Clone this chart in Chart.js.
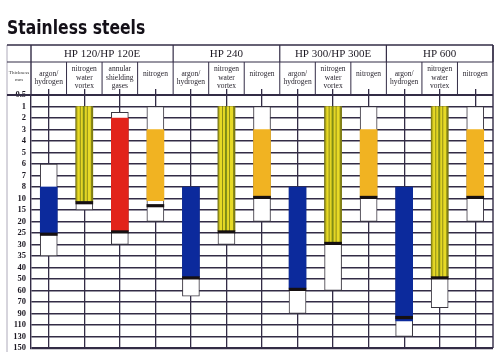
<!DOCTYPE html>
<html>
<head>
<meta charset="utf-8">
<script src="https://cdn.jsdelivr.net/npm/chart.js@4.4.0/dist/chart.umd.min.js"></script>
<style>
  body { margin: 0; background: #fff; }
  #wrap { position: relative; width: 504px; height: 352px; overflow: hidden; }
  canvas { position: absolute; left: 0; top: 0; }
  #title {
    position: absolute; left: 7px; top: 18px; margin: 0;
    font: bold 19px 'DejaVu Sans', sans-serif; line-height: 1;
    color: #141018; white-space: nowrap; transform-origin: 0 0;
  }
</style>
</head>
<body>
<div id="wrap">
  <canvas id="chart" width="504" height="358"></canvas>
  <h1 id="title">Stainless steels</h1>
</div>
<script>
// thickness rows (mm), top to bottom
const thicknessLabels = ['0.5', '1', '2', '3', '4', '5', '6', '7', '8', '10', '15', '20', '25', '30', '35', '40', '50', '60', '70', '90', '110', '130', '150'];
const thicknessValues = [0.5, 1, 2, 3, 4, 5, 6, 7, 8, 10, 15, 20, 25, 30, 35, 40, 50, 60, 70, 90, 110, 130, 150];

const groups = ['HP 120/HP 120E', 'HP 240', 'HP 300/HP 300E', 'HP 600'];
const groupSizes = [4, 3, 3, 3];

const processes = [
    ['argon/', 'hydrogen'], ['nitrogen', 'water', 'vortex'], ['annular', 'shielding', 'gases'], ['nitrogen', ''],
    ['argon/', 'hydrogen'], ['nitrogen', 'water', 'vortex'], ['nitrogen', ''],
    ['argon/', 'hydrogen'], ['nitrogen', 'water', 'vortex'], ['nitrogen', ''],
    ['argon/', 'hydrogen'], ['nitrogen', 'water', 'vortex'], ['nitrogen', '']
];
const processTypes = ['argon', 'vortex', 'annular', 'nitrogen', 'argon', 'vortex', 'nitrogen', 'argon', 'vortex', 'nitrogen', 'argon', 'vortex', 'nitrogen'];

// full cutting range (white box) and recommended range (coloured), in mm
const rangeMin = [6, 1, 1.5, 1, 8, 1, 1, 8, 1, 1, 8, 1, 1];
const rangeMax = [35, 15, 30, 20, 65, 30, 20, 90, 60, 20, 130, 80, 20];
const bestMin = [8, 1, 2, 3, 8, 1, 3, 8, 1, 3, 8, 1, 3];
const bestMax = [25, 11.3, 24, 11, 48, 24, 9.6, 58, 29, 9.6, 103, 48, 9.6];
const bandAt = [25, 11.3, 24, 12.6, 48, 24, 9.6, 58, 29, 9.6, 95, 48, 9.6];

const GRID = '#332c46';
const BAR = 17;
const colours = { argon: '#0c2a9c', annular: '#e2231a', nitrogen: '#f1b322' };

// mm -> row position on the (non linear) thickness axis
function pos(mm) {
    for (let i = 0; i < thicknessValues.length - 1; i++) {
        const a = thicknessValues[i], b = thicknessValues[i + 1];
        if (mm <= b) return i + (mm - a) / (b - a);
    }
    return thicknessValues.length - 1;
}

// vertical stripes for the water vortex bars
const stripes = document.createElement('canvas');
stripes.width = BAR; stripes.height = 4;
(function () {
    const s = stripes.getContext('2d');
    const cols = ['#8c8a16', '#c9bd1e', '#e7da26', '#e7da26', '#8f8c18', '#e5d825', '#e2d524', '#7f8c14', '#86901a',
        '#e2d524', '#e5d825', '#8f8c18', '#e7da26', '#e7da26', '#e7da26', '#8c8a16', '#7e7c12'];
    cols.forEach((c, i) => { s.fillStyle = c; s.fillRect(i, 0, 1, 4); });
})();

function bestFill(c) {
    const type = processTypes[c.dataIndex];
    if (type !== 'vortex') return colours[type];
    const chart = c.chart;
    if (!chart.chartArea || !chart.scales.x) return '#e3d523';
    const left = chart.scales.x.getPixelForValue(c.dataIndex) - BAR / 2;
    const p = chart.ctx.createPattern(stripes, 'repeat');
    p.setTransform(new DOMMatrix().translate(left, 0));
    return p;
}

const tableFrame = {
    id: 'tableFrame',
    afterDraw(chart) {
        const { ctx, chartArea: a } = chart;
        const w = (a.right - a.left) / processes.length;
        const L = 7, top = 45, mid = 62, hb = a.top;
        const line = (x1, y1, x2, y2, lw, col) => {
            ctx.beginPath();
            ctx.lineWidth = lw;
            ctx.strokeStyle = col || GRID;
            ctx.moveTo(x1, y1); ctx.lineTo(x2, y2); ctx.stroke();
        };
        ctx.save();
        line(L, top, L, chart.height, 0.8, '#9a96a8');
        line(L, top, a.right, top, 1.4);
        line(L, mid, a.right, mid, 1.2);
        line(L, hb, a.right, hb, 2.2);
        line(a.left, top, a.left, hb, 1.4);
        line(a.right, top, a.right, a.bottom, 1.4);
        for (let k = 1; k < processes.length; k++) {
            line(a.left + k * w, mid, a.left + k * w, hb, 1);
        }
        ctx.fillStyle = '#1c1822';
        ctx.textAlign = 'center';
        ctx.textBaseline = 'middle';
        ctx.font = '11px "Liberation Serif", serif';
        let k = 0;
        groups.forEach((g, gi) => {
            const x0 = a.left + k * w, x1 = x0 + groupSizes[gi] * w;
            line(x1, top, x1, mid, 1.2);
            ctx.fillText(g, (x0 + x1) / 2, 54);
            k += groupSizes[gi];
        });
        ctx.font = '5px "Liberation Serif", serif';
        ctx.fillStyle = '#333';
        ctx.fillText('Thickness', (L + a.left) / 2, 73);
        ctx.fillText('mm', (L + a.left) / 2, 80);
        ctx.restore();
    }
};

new Chart(document.getElementById('chart'), {
    type: 'bar',
    data: {
        labels: processes,
        datasets: [
            {
                label: 'band',
                data: bandAt.map(v => [pos(v), pos(v) + 0.22]),
                backgroundColor: '#161012',
                barThickness: BAR,
                grouped: false
            },
            {
                label: 'recommended',
                data: bestMin.map((v, i) => [pos(v), pos(bestMax[i])]),
                backgroundColor: bestFill,
                barThickness: BAR,
                grouped: false
            },
            {
                label: 'range',
                data: rangeMin.map((v, i) => [pos(v), pos(rangeMax[i])]),
                backgroundColor: '#ffffff',
                borderColor: '#3a3640',
                borderWidth: 1,
                borderSkipped: false,
                barThickness: BAR,
                grouped: false
            }
        ]
    },
    options: {
        responsive: false,
        animation: false,
        layout: { padding: { left: 7, right: 11, top: 62, bottom: 0 } },
        plugins: {
            legend: { display: false },
            tooltip: { enabled: false }
        },
        scales: {
            x: {
                type: 'category',
                position: 'top',
                offset: true,
                grid: { offset: false, color: GRID, lineWidth: 1.3, drawTicks: true, tickLength: 6, tickColor: GRID },
                border: { display: false },
                ticks: {
                    autoSkip: false, maxRotation: 0, minRotation: 0, crossAlign: 'center', padding: 3,
                    color: '#2a2630',
                    font: { family: '"Liberation Serif", serif', size: 7.5, lineHeight: 1.1 }
                },
                afterFit: s => { s.height = 33; }
            },
            y: {
                type: 'linear',
                reverse: true,
                min: 0,
                max: 22,
                ticks: {
                    stepSize: 1, autoSkip: false, padding: 5,
                    callback: v => thicknessLabels[v],
                    color: '#1c1822',
                    font: { family: '"Liberation Serif", serif', size: 8.5, weight: 'bold' }
                },
                grid: { color: GRID, lineWidth: c => c.index === 0 ? 2.2 : 1.4, drawTicks: false },
                border: { display: true, color: GRID, width: 1.4 },
                afterFit: s => { s.width = 24; }
            }
        }
    },
    plugins: [tableFrame]
});

// squeeze the heading to the condensed width of the original
const title = document.getElementById('title');
title.style.transform = 'scaleX(' + (138 / title.offsetWidth) + ')';
</script>
</body>
</html>
